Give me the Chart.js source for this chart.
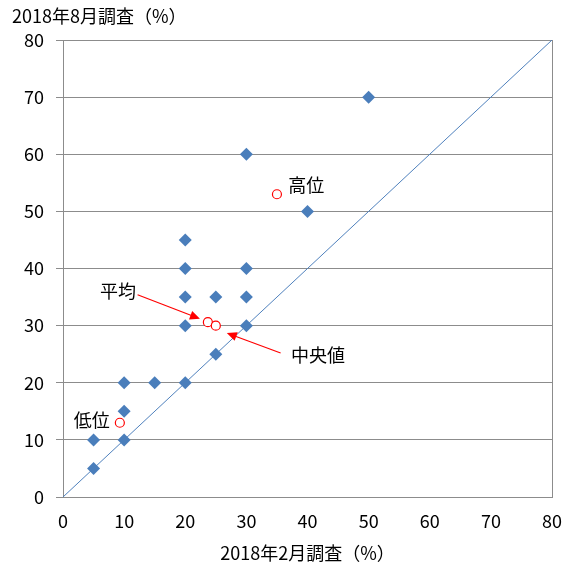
<!DOCTYPE html>
<html>
<head>
<meta charset="utf-8">
<script src="https://cdn.jsdelivr.net/npm/chart.js@4"></script>
<style>
  html, body { margin: 0; padding: 0; background: #fff; }
  #wrap { width: 563px; height: 570px; position: relative; }
</style>
</head>
<body>
<div id="wrap"><canvas id="chart"></canvas></div>
<script>
// Survey results: Feb 2018 (x) vs Aug 2018 (y), percent
const febValues = [5, 5, 10, 10, 10, 15, 20, 25, 20, 30, 20, 25, 30, 20, 30, 20, 40, 30, 50];
const augValues = [5, 10, 10, 15, 20, 20, 20, 25, 30, 30, 35, 35, 35, 40, 40, 45, 50, 60, 70];

// Summary statistics (red circles)
const statNames = ['高位', '平均', '中央値', '低位'];
const statFeb = [35, 23.7, 25, 9.3];
const statAug = [53, 30.6, 30, 13];

const axisTicks = [0, 10, 20, 30, 40, 50, 60, 70, 80];
const diagonal = [0, 80];

const font = "'Noto Sans CJK JP', 'Noto Sans', sans-serif";
const gridColor = '#8c8c8c';

// Labels & arrows for the stats, in data coordinates
const notes = [
  { text: '高位', x: 39.8, y: 54.6 },
  { text: '平均', x: 9.0, y: 36.1 },
  { text: '中央値', x: 41.7, y: 24.9 },
  { text: '低位', x: 4.7, y: 13.5 }
];
const arrows = [
  { from: [12.2, 35.4], to: [22.4, 31.2] },
  { from: [35.6, 25.2], to: [26.8, 28.7] }
];

const annotatePlugin = {
  id: 'annotate',
  beforeDatasetsDraw(chart) {
    // right frame line of the plot area
    const { ctx, chartArea } = chart;
    ctx.save();
    ctx.strokeStyle = gridColor;
    ctx.lineWidth = 1;
    ctx.beginPath();
    ctx.moveTo(chartArea.right + 0.5, chartArea.top);
    ctx.lineTo(chartArea.right + 0.5, chartArea.bottom);
    ctx.stroke();
    ctx.restore();
  },
  afterDatasetsDraw(chart) {
    const { ctx, scales: { x, y } } = chart;
    ctx.save();
    ctx.fillStyle = '#000';
    ctx.font = '18px ' + font;
    ctx.textAlign = 'center';
    ctx.textBaseline = 'middle';
    notes.forEach(n => ctx.fillText(n.text, x.getPixelForValue(n.x), y.getPixelForValue(n.y)));

    ctx.strokeStyle = '#ff0000';
    ctx.fillStyle = '#ff0000';
    ctx.lineWidth = 1.2;
    arrows.forEach(a => {
      const x1 = x.getPixelForValue(a.from[0]), y1 = y.getPixelForValue(a.from[1]);
      const x2 = x.getPixelForValue(a.to[0]), y2 = y.getPixelForValue(a.to[1]);
      const ang = Math.atan2(y2 - y1, x2 - x1);
      ctx.beginPath();
      ctx.moveTo(x1, y1);
      ctx.lineTo(x2 - 7 * Math.cos(ang), y2 - 7 * Math.sin(ang));
      ctx.stroke();
      ctx.beginPath();
      ctx.moveTo(x2, y2);
      ctx.lineTo(x2 - 10 * Math.cos(ang) + 4.5 * Math.sin(ang), y2 - 10 * Math.sin(ang) - 4.5 * Math.cos(ang));
      ctx.lineTo(x2 - 10 * Math.cos(ang) - 4.5 * Math.sin(ang), y2 - 10 * Math.sin(ang) + 4.5 * Math.cos(ang));
      ctx.closePath();
      ctx.fill();
    });

    // y-axis title, horizontal at top-left
    ctx.fillStyle = '#000';
    ctx.font = '18px ' + font;
    ctx.textAlign = 'left';
    ctx.textBaseline = 'middle';
    ctx.fillText('2018年8月調査（%）', 12, 16);
    ctx.restore();
  }
};

new Chart(document.getElementById('chart'), {
  type: 'scatter',
  data: {
    datasets: [
      {
        label: 'diagonal',
        data: diagonal.map(v => ({ x: v, y: v })),
        showLine: true,
        borderColor: '#4F81BD',
        borderWidth: 1,
        pointRadius: 0,
        order: 3
      },
      {
        label: 'survey',
        data: febValues.map((v, i) => ({ x: v, y: augValues[i] })),
        pointStyle: 'rectRot',
        pointRadius: 6.5,
        backgroundColor: '#4A7EBB',
        borderColor: '#4A7EBB',
        borderWidth: 0,
        order: 2
      },
      {
        label: 'stats',
        data: statFeb.map((v, i) => ({ x: v, y: statAug[i], name: statNames[i] })),
        pointStyle: 'circle',
        pointRadius: 4.5,
        backgroundColor: '#ffffff',
        borderColor: '#ff0000',
        borderWidth: 1.2,
        order: 1
      }
    ]
  },
  options: {
    responsive: true,
    maintainAspectRatio: false,
    animation: false,
    layout: { padding: { top: 40, right: 0, left: 0, bottom: 0 } },
    plugins: {
      legend: { display: false },
      tooltip: { enabled: false }
    },
    scales: {
      x: {
        type: 'linear',
        min: 0,
        max: 80,
        afterBuildTicks: axis => { axis.ticks = axisTicks.map(v => ({ value: v })); },
        afterFit: axis => { axis.height = 73; axis.paddingRight = 11; axis.paddingLeft = 0; },
        grid: { display: false, drawOnChartArea: false, drawTicks: true, tickLength: 7, color: gridColor },
        border: { display: true, color: gridColor },
        ticks: { color: '#000', font: { size: 18, family: font }, padding: 6, maxRotation: 0 },
        title: { display: true, text: '2018年2月調査（%）', color: '#000', font: { size: 18, family: font }, padding: { top: 0, bottom: 6 } }
      },
      y: {
        type: 'linear',
        min: 0,
        max: 80,
        afterBuildTicks: axis => { axis.ticks = axisTicks.map(v => ({ value: v })); },
        afterFit: axis => { axis.width = 63; },
        grid: { color: gridColor, tickLength: 7, drawTicks: true },
        border: { display: true, color: gridColor },
        ticks: { color: '#000', font: { size: 18, family: font }, padding: 12 }
      }
    }
  },
  plugins: [annotatePlugin]
});
</script>
</body>
</html>
